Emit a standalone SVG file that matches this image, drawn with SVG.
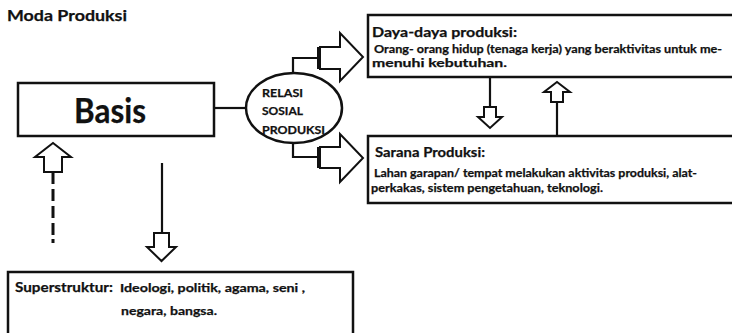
<svg xmlns="http://www.w3.org/2000/svg" width="732" height="333" viewBox="0 0 732 333">
  <style>
    .box { fill: #fff; stroke: #111; stroke-width: 2.5; }
    .line { fill: none; stroke: #111; stroke-width: 2.2; }
    .dash { fill: none; stroke: #111; stroke-width: 3; }
    .blk { fill: #fff; stroke: #111; stroke-width: 2; stroke-linejoin: miter; }
    .bar { stroke: #111; stroke-width: 4; }
    text { font-family: Lato, "Liberation Sans", sans-serif; font-weight: bold; fill: #111; stroke: #111; stroke-width: 0.25; }
    .h { font-size: 14px; }
    .b { font-size: 11.5px; }
    .r { font-size: 11.5px; }
  </style>

  <text x="7" y="21" font-size="16" textLength="120" lengthAdjust="spacingAndGlyphs">Moda Produksi</text>

  <g id="connectors">
    <!-- Basis to relasi ellipse -->
    <line class="line" x1="214" y1="108" x2="246" y2="108"/>
    <!-- ellipse up to Daya-daya produksi -->
    <polyline class="line" points="293,73 293,58 318,58"/>
    <line class="bar" x1="319" y1="47" x2="319" y2="69"/>
    <polygon class="blk" points="320,47 340,47 340,33 363,57 340,81 340,69 320,69"/>
    <!-- ellipse down to Sarana produksi -->
    <polyline class="line" points="293,143 293,157 318,157"/>
    <line class="bar" x1="319" y1="147" x2="319" y2="168"/>
    <polygon class="blk" points="320,147 340,147 340,134 363,158 340,182 340,168 320,168"/>
    <!-- Daya to Sarana -->
    <line class="line" x1="490" y1="77" x2="490" y2="107"/>
    <polygon class="blk" points="484,107 496,107 496,117 502,117 490,128 478,117 484,117"/>
    <!-- Sarana to Daya -->
    <line class="line" x1="557" y1="135" x2="557" y2="102"/>
    <polygon class="blk" points="551,102 563,102 563,92 570,92 557,82 544,92 551,92"/>
    <!-- Superstruktur back to Basis (dashed, drawn as separate strokes) -->
    <path class="dash" d="M53,173 V184 M53,189 V201 M53,206 V218 M53,223 V235 M53,239 V243"/>
    <polygon class="blk" points="44,172 62,172 62,157 71,157 53,143 35,157 44,157"/>
    <!-- Basis to Superstruktur -->
    <line class="line" x1="162" y1="163" x2="162" y2="233"/>
    <polygon class="blk" points="154,233 169,233 169,247 176,247 161.5,261 147,247 154,247"/>
  </g>

  <g id="basis">
    <rect class="box" x="18" y="83" width="196" height="53"/>
    <text x="74" y="123" font-size="34" textLength="72" lengthAdjust="spacingAndGlyphs">Basis</text>
  </g>

  <g id="relasi">
    <ellipse class="box" cx="294" cy="108" rx="48" ry="35"/>
    <text class="r" x="262" y="97" textLength="41" lengthAdjust="spacingAndGlyphs">RELASI</text>
    <text class="r" x="262" y="115" textLength="41" lengthAdjust="spacingAndGlyphs">SOSIAL</text>
    <text class="r" x="262" y="134" textLength="63" lengthAdjust="spacingAndGlyphs">PRODUKSI</text>
  </g>

  <g id="daya">
    <rect class="box" x="368" y="15" width="380" height="62"/>
    <text class="h" x="372" y="37" textLength="145" lengthAdjust="spacingAndGlyphs">Daya-daya produksi:</text>
    <text class="b" x="374" y="53" textLength="348" lengthAdjust="spacingAndGlyphs">Orang- orang hidup (tenaga kerja) yang beraktivitas untuk me-</text>
    <text class="b" x="372" y="67" textLength="135" lengthAdjust="spacingAndGlyphs">menuhi kebutuhan.</text>
  </g>

  <g id="sarana">
    <rect class="box" x="368" y="136" width="380" height="67"/>
    <text class="h" x="375" y="157" textLength="110" lengthAdjust="spacingAndGlyphs">Sarana Produksi:</text>
    <text class="b" x="374" y="177" textLength="323" lengthAdjust="spacingAndGlyphs">Lahan garapan/ tempat melakukan aktivitas produksi, alat-</text>
    <text class="b" x="371" y="192" textLength="232" lengthAdjust="spacingAndGlyphs">perkakas, sistem pengetahuan, teknologi.</text>
  </g>

  <g id="superstruktur">
    <rect class="box" x="8" y="272" width="345" height="80"/>
    <text class="h" x="15" y="292" font-size="13" textLength="98" lengthAdjust="spacingAndGlyphs">Superstruktur:</text>
    <text class="b" x="120" y="292" font-size="12.5" textLength="185" lengthAdjust="spacingAndGlyphs">Ideologi, politik, agama, seni ,</text>
    <text class="b" x="121" y="315" font-size="12.5" textLength="96" lengthAdjust="spacingAndGlyphs">negara, bangsa.</text>
  </g>
</svg>
